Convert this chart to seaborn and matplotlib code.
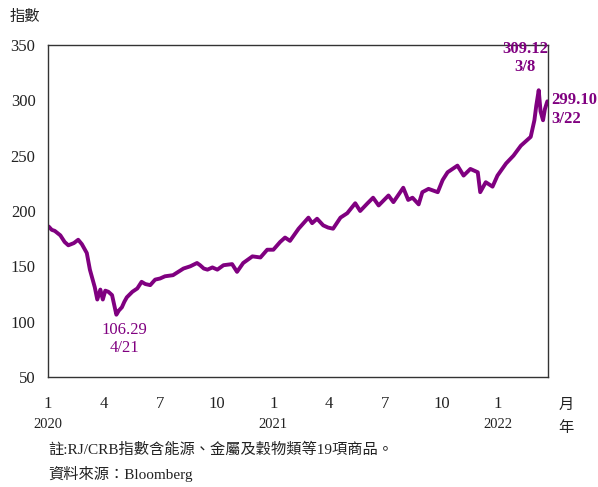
import seaborn as sns
import matplotlib.pyplot as plt
import matplotlib.dates as mdates
import matplotlib.transforms as mtransforms
import pandas as pd

# RJ/CRB index, values
dates = ["2020-01-02", "2020-01-07", "2020-01-12", "2020-01-21", "2020-01-28", "2020-02-03",
         "2020-02-12", "2020-02-19", "2020-02-25", "2020-03-01", "2020-03-04", "2020-03-09",
         "2020-03-17", "2020-03-21", "2020-03-26", "2020-03-30", "2020-04-03", "2020-04-08",
         "2020-04-14", "2020-04-21", "2020-04-25", "2020-04-30", "2020-05-04", "2020-05-08",
         "2020-05-17", "2020-05-25", "2020-06-01", "2020-06-07", "2020-06-15", "2020-06-23",
         "2020-07-01", "2020-07-09", "2020-07-22", "2020-08-08", "2020-08-19", "2020-08-30",
         "2020-09-04", "2020-09-10", "2020-09-16", "2020-09-24", "2020-10-02", "2020-10-12",
         "2020-10-26", "2020-11-03", "2020-11-13", "2020-11-28", "2020-12-11", "2020-12-22",
         "2021-01-01", "2021-01-12", "2021-01-20", "2021-01-28", "2021-02-11", "2021-02-27",
         "2021-03-05", "2021-03-13", "2021-03-23", "2021-03-31", "2021-04-08", "2021-04-20",
         "2021-05-01", "2021-05-14", "2021-05-22", "2021-06-03", "2021-06-12", "2021-06-21",
         "2021-07-07", "2021-07-15", "2021-07-31", "2021-08-08", "2021-08-15", "2021-08-25",
         "2021-08-31", "2021-09-10", "2021-09-25", "2021-10-03", "2021-10-11", "2021-10-27",
         "2021-11-06", "2021-11-17", "2021-11-29", "2021-12-03", "2021-12-12", "2021-12-23",
         "2021-12-31", "2022-01-14", "2022-01-26", "2022-02-07", "2022-02-17", "2022-02-23",
         "2022-03-01", "2022-03-04", "2022-03-08", "2022-03-11", "2022-03-15", "2022-03-18",
         "2022-03-22"]
values = [186, 183, 182, 178, 172, 169,
          171, 174, 170, 165, 162, 147,
          131, 120, 129, 120, 128, 127,
          124, 106.29, 110, 113, 118, 122,
          127, 130, 136, 134, 133, 138,
          139, 141, 142, 148, 150, 153,
          151, 148, 147, 149, 147, 151,
          152, 145, 153, 159, 158, 165,
          165, 172, 176, 173, 184, 194,
          189, 193, 187, 185, 184, 194,
          198, 207, 200, 207, 212, 205,
          214, 208, 221, 210, 212, 206,
          217, 220, 217, 228, 235, 241,
          232, 238, 235, 217, 226, 222,
          232, 243, 250, 259, 264, 267,
          282, 295, 309.12, 290, 282, 292,
          299.10]

month_ticks = ["2020-01-01", "2020-04-01", "2020-07-01", "2020-10-01", "2021-01-01",
               "2021-04-01", "2021-07-01", "2021-10-01", "2022-01-01"]
month_labels = ["1", "4", "7", "10", "1", "4", "7", "10", "1"]
year_ticks = ["2020-01-01", "2021-01-01", "2022-01-01"]
year_labels = ["2020", "2021", "2022"]

df = pd.DataFrame({"date": pd.to_datetime(dates), "value": values})

sns.set_theme(style="white")
plt.rcParams['font.family'] = ['Liberation Serif', 'Noto Sans CJK TC']
plt.rcParams['axes.unicode_minus'] = False

purple = "#800080"
fig = plt.figure(figsize=(5.98, 4.87), dpi=100)
ax = fig.add_axes([0.0803, 0.2259, 0.836, 0.6817])

sns.lineplot(data=df, x="date", y="value", color=purple, linewidth=2.8, ax=ax)

ax.set_xlim(pd.Timestamp("2020-01-01"), pd.Timestamp("2022-03-23"))
ax.set_ylim(50, 350)
ax.set_yticks([50, 100, 150, 200, 250, 300, 350])
ax.set_xticks(pd.to_datetime(month_ticks))
ax.set_xticklabels(month_labels)
ax.tick_params(axis="both", length=0, labelsize=12, colors="#222222")
ax.tick_params(axis="x", pad=14)
ax.tick_params(axis="y", pad=9)
ax.set_xlabel("")
ax.set_ylabel("")
for s in ax.spines.values():
    s.set_color("#333333")
    s.set_linewidth(1.0)

# year labels under month labels: x in data, y in figure coords
year_trans = mtransforms.blended_transform_factory(ax.transData, fig.transFigure)
for d, lab in zip(pd.to_datetime(year_ticks), year_labels):
    ax.text(mdates.date2num(d), 1 - 425 / 487, lab, transform=year_trans,
            ha="center", va="center", fontsize=10.5, color="#222222")

fig.text(566 / 598, 1 - 405 / 487, "月", ha="center", va="center", fontsize=11, color="#222222")
fig.text(566 / 598, 1 - 428 / 487, "年", ha="center", va="center", fontsize=11, color="#222222")
fig.text(25 / 598, 1 - 17 / 487, "指數", ha="center", va="center", fontsize=11, color="#222222")

# annotations
ax.annotate("309.12\n3/8", xy=(pd.Timestamp("2022-03-08"), 309.12), xytext=(-10, 11),
            textcoords="offset points", ha="center", va="bottom", fontsize=12,
            fontweight="bold", color=purple, linespacing=1.2)
ax.annotate("299.10\n3/22", xy=(pd.Timestamp("2022-03-22"), 299.10), xytext=(3, -6),
            textcoords="offset points", ha="left", va="center", fontsize=12,
            fontweight="bold", color=purple, linespacing=1.2, annotation_clip=False)
ax.annotate("106.29\n4/21", xy=(pd.Timestamp("2020-04-21"), 106.29), xytext=(6, -5),
            textcoords="offset points", ha="center", va="top", fontsize=12,
            color=purple, linespacing=1.2)

fig.text(48 / 598, 1 - 450 / 487, "註:RJ/CRB指數含能源、金屬及穀物類等19項商品。",
         ha="left", va="center", fontsize=11, color="#222222")
fig.text(48 / 598, 1 - 474 / 487, "資料來源：Bloomberg",
         ha="left", va="center", fontsize=11, color="#222222")

fig.savefig("out.png", dpi=100)
